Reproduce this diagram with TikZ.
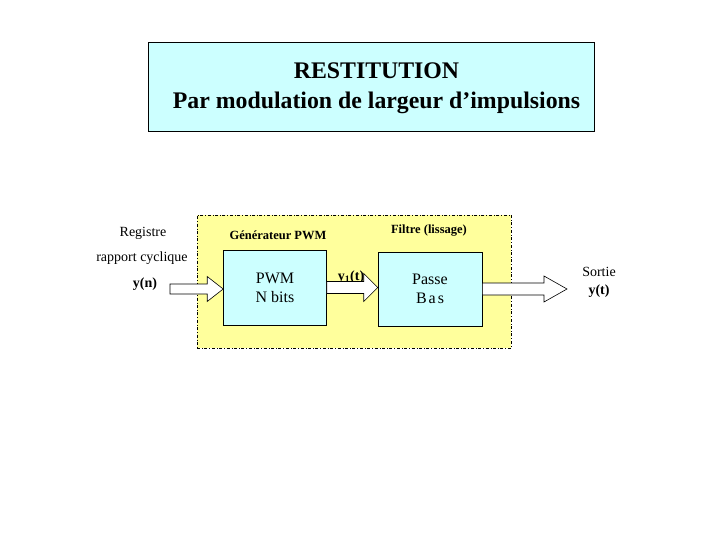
\documentclass[tikz,border=0pt]{standalone}
\usepackage{fontspec}
\setmainfont{Liberation Serif}
\usetikzlibrary{calc}
\definecolor{ink}{HTML}{000000}
\definecolor{cyanFill}{HTML}{CCFFFF}
\definecolor{zoneFill}{HTML}{FFFF9C}
\tikzset{
  titlebox/.style={draw=ink,fill=cyanFill,line width=0.8pt,minimum width=446pt,
    minimum height=89pt,inner sep=0pt},
  titletxt/.style={align=center,font=\fontsize{23.8}{30}\selectfont\bfseries,inner sep=0pt},
  zone/.style={draw=ink,fill=zoneFill,dash dot,line width=0.6pt,minimum width=314pt,
    minimum height=133pt,inner sep=0pt},
  block/.style={draw=ink,fill=cyanFill,line width=0.6pt,minimum width=103pt,
    minimum height=75pt,align=center,font=\fontsize{16}{19}\selectfont,inner sep=0pt},
  lab/.style={font=\fontsize{14}{16}\selectfont,text=ink,inner sep=0pt},
  blab/.style={font=\fontsize{14}{16}\selectfont\bfseries,text=ink,inner sep=0pt},
  zlab/.style={font=\fontsize{12.5}{14}\selectfont\bfseries,text=ink,inner sep=0pt},
  barrow/.style={draw=ink,fill=white,line width=0.6pt,line join=miter},
}
% block arrow: from, to, shaft half width, head half width, head length
\newcommand{\blockarrow}[5]{%
  \draw[barrow] let \p1=(#1), \p2=(#2) in
    (\x1,\y1+#3) -- (\x2-#5,\y1+#3) -- (\x2-#5,\y1+#4) -- (\x2,\y1)
    -- (\x2-#5,\y1-#4) -- (\x2-#5,\y1-#3) -- (\x1,\y1-#3) -- cycle;}

\begin{document}
\begin{tikzpicture}[x=1pt,y=-1pt]
\useasboundingbox (0,0) rectangle (720,540);

% title
\node[titlebox] (title) at (371,86.5) {};
\node[titletxt] (titletext) at (376.5,88.5) {RESTITUTION\\Par modulation de largeur d'impulsions};

% yellow area and blocks
\node[zone] (zone) at (354,281.5) {};
\node[block] (pwm) at (275,287.5) {PWM\\N bits};
\node[block,minimum width=104pt,minimum height=74pt] (pb) at (430,289) {Passe\\B\kern2pt a\kern2pt s};

% labels
\node[lab] (reg) at (143,233) {Registre};
\node[lab] (rap) at (142,258) {rapport cyclique};
\node[blab] (yn) at (145,284) {y(n)};
\node[zlab] (gen) at (278,235) {Générateur PWM};
\node[zlab] (fil) at (429,231) {Filtre (lissage)};
\node[blab] (yone) at (351,277) {y\textsubscript{1}(t)};
\node[lab] (sortie) at (599,272) {Sortie};
\node[blab] (yt) at (599,291) {y(t)};

% arrows
\coordinate (in) at (170,289);
\coordinate (out) at (567,288);
\blockarrow{in}{pwm.west}{5pt}{12.5pt}{16pt}
\blockarrow{pwm.east}{pb.west}{6pt}{14pt}{14pt}
\blockarrow{pb.east}{out}{6pt}{13pt}{23pt}

\end{tikzpicture}
\end{document}
